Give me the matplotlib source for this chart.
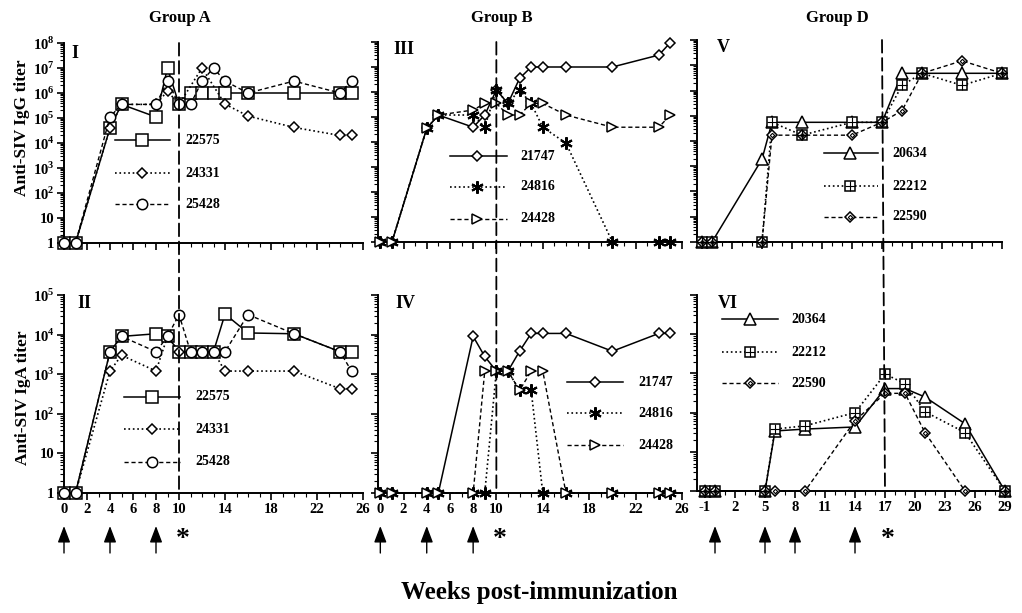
import matplotlib
matplotlib.use("Agg")
import matplotlib.pyplot as plt
import matplotlib.transforms as mtransforms
from matplotlib.patches import ConnectionPatch
from matplotlib.ticker import LogLocator, NullFormatter, FixedLocator, FixedFormatter, MultipleLocator

plt.rcParams.update({
    "font.family": "Liberation Serif",
    "font.weight": "bold",
    "mathtext.fontset": "custom",
    "mathtext.rm": "Liberation Serif:bold",
    "mathtext.bf": "Liberation Serif:bold",
    "axes.unicode_minus": False,
})

# ---- data (titers) ----
WEEKS_AB = [0, 1, 4, 5, 8, 9, 10, 11, 12, 13, 14, 16, 20, 24, 25]
WEEKS_D = [-1, 0, 5, 6, 9, 14, 17, 19, 21, 25, 29]

# Group A, IgG (I)
I_22575 = [1, 1, 4e4, 3.5e5, 1.1e5, 1e7, 3.5e5, 1e6, 1e6, 1e6, 1e6, 1e6, 1e6, 1e6, 1e6]
I_24331_WEEKS = [0, 1, 4, 5, 8, 9, 10, 12, 14, 16, 20, 24, 25]
I_24331 = [1, 1, 4e4, 3.5e5, 3.5e5, 1.2e6, 3.5e5, 1e7, 3.6e5, 1.2e5, 4.2e4, 2e4, 2e4]
I_25428 = [1, 1, 1.1e5, 3.5e5, 3.5e5, 3e6, 3.5e5, 3.5e5, 3e6, 1e7, 3e6, 1e6, 3e6, 1e6, 3e6]
# Group A, IgA (II)
II_22575 = [1, 1, 3.7e3, 9e3, 1.05e4, 9e3, 3.7e3, 3.7e3, 3.7e3, 3.7e3, 3.3e4, 1.1e4, 1.05e4, 3.7e3, 3.7e3]
II_24331 = [1, 1, 1.2e3, 3e3, 1.2e3, 9e3, 3.7e3, 3.7e3, 3.7e3, 3.7e3, 1.2e3, 1.2e3, 1.2e3, 430, 430]
II_25428 = [1, 1, 3.7e3, 9e3, 3.7e3, 9e3, 3.2e4, 3.7e3, 3.7e3, 3.7e3, 3.7e3, 3.2e4, 1.05e4, 3.7e3, 1.2e3]
# Group B, IgG (III)
III_21747 = [1, 1, 3.5e4, 1.2e5, 3.9e4, 1.2e5, 1.2e6, 3.5e5, 3.5e6, 1e7, 1e7, 1e7, 1e7, 3e7, 9.5e7]
III_24816 = [1, 1, 3.5e4, 1.2e5, 1.2e5, 3.9e4, 1.2e6, 3.5e5, 1.2e6, 3.5e5, 3.9e4, 9e3, 1, 1, 1]
III_24428 = [1, 1, 3.5e4, 1.2e5, 1.9e5, 3.5e5, 3.5e5, 1.2e5, 1.2e5, 3.5e5, 3.5e5, 1.2e5, 3.9e4, 3.9e4, 1.2e5]
# Group B, IgA (IV)
IV_21747 = [1, 1, 1, 1, 9e3, 2.8e3, 1.2e3, 1.2e3, 3.8e3, 1.07e4, 1.07e4, 1.07e4, 3.8e3, 1.07e4, 1.07e4]
IV_24816 = [1, 1, 1, 1, 1, 1, 1.2e3, 1.2e3, 390, 390, 1, 1, 1, 1, 1]
IV_24428 = [1, 1, 1, 1, 1, 1.2e3, 1.2e3, 1.2e3, 390, 1.2e3, 1.2e3, 1, 1, 1, 1]
# Group D, IgG (V)
V_20634 = [1, 1, 1.9e3, 5.5e4, 5.5e4, 5.5e4, 5.5e4, 4.8e6, 4.8e6, 4.8e6, 4.8e6]
V_22212 = [1, 1, 1, 5.5e4, 1.7e4, 5.5e4, 5.5e4, 1.6e6, 4.8e6, 1.6e6, 4.8e6]
V_22590 = [1, 1, 1, 1.7e4, 1.7e4, 1.7e4, 5.5e4, 1.6e5, 4.8e6, 1.5e7, 4.8e6]
# Group D, IgA (VI)
VI_20364 = [1, 1, 1, 34, 38, 43, 410, 410, 250, 52, 1]
VI_22212 = [1, 1, 1, 38, 46, 100, 960, 550, 105, 31, 1]
VI_22590 = [1, 1, 1, 1, 1, 62, 310, 310, 31, 1, 1]

XT_AB = [0, 2, 4, 6, 8, 10, 14, 18, 22, 26]
XT_D = [-1, 2, 5, 8, 11, 14, 17, 20, 23, 26, 29]
IMMUN_AB = [0, 4, 8]
IMMUN_D = [0, 5, 8, 14]
CHALLENGE_AB = 10
CHALLENGE_D = 17

W, H = 1022, 613
fig = plt.figure(figsize=(W / 100, H / 100), dpi=100)


def add_panel(x0, y0, x1, y1):
    return fig.add_axes([x0 / W, 1 - y1 / H, (x1 - x0) / W, (y1 - y0) / H])


SOLID = dict(ls="-", lw=1.1)
DOT = dict(ls=":", lw=1.2)
DASH = dict(ls=(0, (3, 2)), lw=1.0)
ASTER = (6, 2, 0)


def mew_for(marker):
    return 1.5 if marker == ASTER else 1.1


def draw(ax, x, y, line, marker, ms, inner=None):
    ax.plot(x, y, color="k", marker=marker, ms=ms, mfc="white", mec="k", mew=mew_for(marker),
            clip_on=False, zorder=3, **line)
    if inner:
        ax.plot(x, y, ls="none", marker=inner[0], ms=inner[1], mfc="none", mec="k",
                mew=0.8, clip_on=False, zorder=4)


def legend(ax, rows, x0, x1, xm, xt):
    for y, label, line, marker, ms, inner in rows:
        ax.plot([x0, x1], [y, y], color="k", transform=ax.transAxes, clip_on=False, **line)
        ax.plot([xm], [y], marker=marker, ms=ms, mfc="white", mec="k", mew=mew_for(marker),
                transform=ax.transAxes, clip_on=False, zorder=5)
        if inner:
            ax.plot([xm], [y], marker=inner[0], ms=inner[1], mfc="none", mec="k", mew=0.8,
                    transform=ax.transAxes, clip_on=False, zorder=6)
        ax.text(xt, y, label, transform=ax.transAxes, va="center", ha="left", fontsize=10)


def style(ax, top, xlim, xt, labelleft):
    for s in ("top", "right"):
        ax.spines[s].set_visible(False)
    for s in ("left", "bottom"):
        ax.spines[s].set_linewidth(1.4)
    ax.set_yscale("log")
    decades = 8 if top else 5
    ax.set_ylim(1, 10 ** decades)
    ax.set_xlim(*xlim)
    ax.yaxis.set_major_locator(FixedLocator([10 ** k for k in range(decades + 1)]))
    ax.yaxis.set_minor_locator(LogLocator(base=10, subs=range(2, 10), numticks=20))
    ax.yaxis.set_minor_formatter(NullFormatter())
    labels = ["1", "10"] + ["10$^{%d}$" % k for k in range(2, decades + 1)]
    ax.yaxis.set_major_formatter(FixedFormatter(labels))
    ax.xaxis.set_major_locator(FixedLocator(xt))
    ax.xaxis.set_minor_locator(MultipleLocator(1))
    ax.tick_params(which="major", direction="out", length=5, width=1.2, labelsize=10.5, pad=2)
    ax.tick_params(which="minor", direction="out", length=3, width=0.8)
    ax.tick_params(axis="x", labelbottom=not top)
    ax.tick_params(axis="y", labelleft=labelleft)
    ax.patch.set_alpha(0)


axI = add_panel(64, 43, 363, 243)
axII = add_panel(64, 295, 363, 493)
axIII = add_panel(378, 42, 682, 242)
axIV = add_panel(378, 295, 682, 493)
axV = add_panel(697, 40, 1002, 242)
axVI = add_panel(697, 295, 1005, 491)

style(axI, True, (0, 26), XT_AB, True)
style(axII, False, (0, 26), XT_AB, True)
style(axIII, True, (-0.2, 26), XT_AB, False)
style(axIV, False, (-0.2, 26), XT_AB, False)
style(axV, True, (-1.5, 29), XT_D, False)
style(axVI, False, (-1.8, 29), XT_D, False)

# Group A
draw(axI, WEEKS_AB, I_22575, SOLID, "s", 8.5)
draw(axI, I_24331_WEEKS, I_24331, DOT, "D", 4.8)
draw(axI, WEEKS_AB, I_25428, DASH, "o", 7.5)
draw(axII, WEEKS_AB, II_22575, SOLID, "s", 8.5)
draw(axII, WEEKS_AB, II_24331, DOT, "D", 4.8)
draw(axII, WEEKS_AB, II_25428, DASH, "o", 7.5)
rows_a = [("22575", SOLID, "s", 8.5, None), ("24331", DOT, "D", 4.8, None), ("25428", DASH, "o", 7.5, None)]
legend(axI, [(y,) + r for y, r in zip([0.515, 0.35, 0.195], rows_a)], 0.171, 0.355, 0.261, 0.405)
legend(axII, [(y,) + r for y, r in zip([0.485, 0.323, 0.157], rows_a)], 0.20, 0.388, 0.294, 0.438)

# Group B
draw(axIII, WEEKS_AB, III_21747, SOLID, "D", 5.2)
draw(axIII, WEEKS_AB, III_24816, DOT, ASTER, 9)
draw(axIII, WEEKS_AB, III_24428, DASH, ">", 7.5)
draw(axIV, WEEKS_AB, IV_21747, SOLID, "D", 5.2)
draw(axIV, WEEKS_AB, IV_24816, DOT, ASTER, 9)
draw(axIV, WEEKS_AB, IV_24428, DASH, ">", 7.5)
rows_b = [("21747", SOLID, "D", 5.2, None), ("24816", DOT, ASTER, 9, None), ("24428", DASH, ">", 7.5, None)]
legend(axIII, [(y,) + r for y, r in zip([0.43, 0.275, 0.115], rows_b)], 0.237, 0.424, 0.326, 0.467)
legend(axIV, [(y,) + r for y, r in zip([0.56, 0.404, 0.242], rows_b)], 0.622, 0.806, 0.714, 0.855)

# Group D
draw(axV, WEEKS_D, V_20634, SOLID, "^", 8.5)
draw(axV, WEEKS_D, V_22212, DOT, "s", 7.5, ("+", 7.5))
draw(axV, WEEKS_D, V_22590, DASH, "D", 5, ("D", 2.2))
draw(axVI, WEEKS_D, VI_20364, SOLID, "^", 8.5)
draw(axVI, WEEKS_D, VI_22212, DOT, "s", 7.5, ("+", 7.5))
draw(axVI, WEEKS_D, VI_22590, DASH, "D", 5, ("D", 2.2))
legend(axV, [(0.44, "20634", SOLID, "^", 8.5, None), (0.277, "22212", DOT, "s", 7.5, ("+", 7.5)),
             (0.124, "22590", DASH, "D", 5, ("D", 2.2))], 0.416, 0.594, 0.503, 0.64)
legend(axVI, [(0.877, "20364", SOLID, "^", 8.5, None), (0.709, "22212", DOT, "s", 7.5, ("+", 7.5)),
              (0.551, "22590", DASH, "D", 5, ("D", 2.2))], 0.081, 0.263, 0.172, 0.308)

# challenge lines spanning both rows
for top, bot, wk in ((axI, axII, CHALLENGE_AB), (axIII, axIV, CHALLENGE_AB), (axV, axVI, CHALLENGE_D)):
    con = ConnectionPatch(xyA=(wk, 1e8), coordsA=top.transData, xyB=(wk, 1), coordsB=bot.transData,
                          color="k", lw=1.3, linestyle=(0, (7, 3)), zorder=2)
    fig.add_artist(con)

# immunization arrows and challenge stars
for ax, weeks, star in ((axII, IMMUN_AB, CHALLENGE_AB), (axIV, IMMUN_AB, CHALLENGE_AB), (axVI, IMMUN_D, CHALLENGE_D)):
    tr = mtransforms.blended_transform_factory(ax.transData, fig.transFigure)
    for wk in weeks:
        ax.annotate("", xy=(wk, 1 - 526 / H), xytext=(wk, 1 - 553 / H), xycoords=tr, textcoords=tr,
                    annotation_clip=False,
                    arrowprops=dict(arrowstyle="-|>,head_length=1.0,head_width=0.38", color="k",
                                    lw=1.0, shrinkA=0, shrinkB=0))
    ax.text(star + 0.3, 1 - 540 / H, "*", transform=tr, fontsize=20, ha="center", va="center")

# titles and labels
fig.text(180 / W, 1 - 18 / H, "Group A", ha="center", va="center", fontsize=12)
fig.text(502 / W, 1 - 18 / H, "Group B", ha="center", va="center", fontsize=12)
fig.text(837 / W, 1 - 18 / H, "Group D", ha="center", va="center", fontsize=12)
fig.text(22 / W, 1 - 128 / H, "Anti-SIV IgG titer", rotation=90, ha="center", va="center", fontsize=12.5)
fig.text(23 / W, 1 - 398 / H, "Anti-SIV IgA titer", rotation=90, ha="center", va="center", fontsize=12.5)
fig.text(539 / W, 1 - 593 / H, "Weeks post-immunization", ha="center", va="center", fontsize=18)
for lab, x, y in (("I", 71, 53), ("II", 77, 303), ("III", 393, 50), ("IV", 395, 303), ("V", 717, 47), ("VI", 718, 303)):
    fig.text(x / W, 1 - y / H, lab, ha="left", va="center", fontsize=13)

fig.savefig("out.png", dpi=100, facecolor="white")
